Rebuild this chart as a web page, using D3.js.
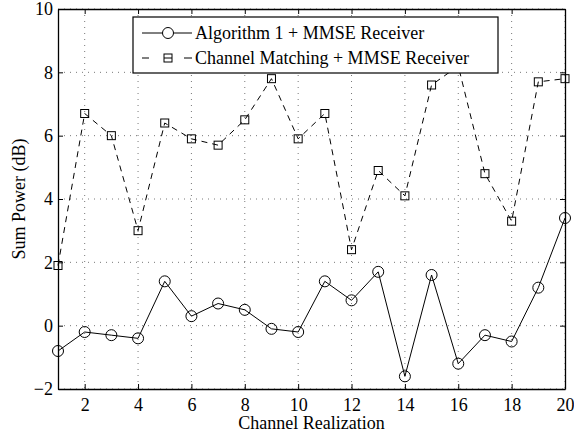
<!DOCTYPE html>
<html>
<head>
<meta charset="utf-8">
<script src="https://cdn.jsdelivr.net/npm/d3@7"></script>
<style>
body{margin:0;background:#fff;}
svg{display:block;}
</style>
</head>
<body>
<svg id="chart" width="574" height="436"></svg>
<script>
const realizations = d3.range(1, 21);
const algorithm1 = [-0.8, -0.2, -0.3, -0.4, 1.4, 0.3, 0.7, 0.5, -0.1, -0.2, 1.4, 0.8, 1.7, -1.6, 1.6, -1.2, -0.3, -0.5, 1.2, 3.4];
const channelMatching = [1.9, 6.7, 6.0, 3.0, 6.4, 5.9, 5.7, 6.5, 7.8, 5.9, 6.7, 2.4, 4.9, 4.1, 7.6, 8.2, 4.8, 3.3, 7.7, 7.8];
const xTicks = [2, 4, 6, 8, 10, 12, 14, 16, 18, 20];
const yTicks = [-2, 0, 2, 4, 6, 8, 10];
const seriesNames = ["Algorithm 1 + MMSE Receiver", "Channel Matching + MMSE Receiver"];
const xLabel = "Channel Realization";
const yLabel = "Sum Power (dB)";

const FONT = "'Liberation Serif'";
const svg = d3.select("#chart");
const L = 58, R = 565, T = 9, B = 389;
const x = d3.scaleLinear().domain([1, 20]).range([L, R]);
const y = d3.scaleLinear().domain([-2, 10]).range([B, T]);
const fmt = d => d < 0 ? "\u2212" + Math.abs(d) : String(d);

// grid
const grid = svg.append("g");
grid.selectAll("line.gx").data(xTicks).join("line")
  .attr("x1", d => x(d)).attr("x2", d => x(d)).attr("y1", T).attr("y2", B)
  .attr("stroke", "#555").attr("stroke-width", 0.8).attr("stroke-dasharray", "1,5");
grid.selectAll("line.gy").data(yTicks).join("line")
  .attr("y1", d => y(d)).attr("y2", d => y(d)).attr("x1", L).attr("x2", R)
  .attr("stroke", "#555").attr("stroke-width", 0.8).attr("stroke-dasharray", "1,5");

// axes
const tickLen = 5;
const xb = svg.append("g").attr("transform", `translate(0,${B})`)
  .call(d3.axisBottom(x).tickValues(xTicks).tickFormat(fmt).tickSizeInner(-tickLen).tickSizeOuter(0).tickPadding(9));
const xt = svg.append("g").attr("transform", `translate(0,${T})`)
  .call(d3.axisTop(x).tickValues(xTicks).tickFormat("").tickSizeInner(-tickLen).tickSizeOuter(0));
const yl = svg.append("g").attr("transform", `translate(${L},0)`)
  .call(d3.axisLeft(y).tickValues(yTicks).tickFormat(fmt).tickSizeInner(-tickLen).tickSizeOuter(0).tickPadding(5));
const yr = svg.append("g").attr("transform", `translate(${R},0)`)
  .call(d3.axisRight(y).tickValues(yTicks).tickFormat("").tickSizeInner(-tickLen).tickSizeOuter(0));
[xb, xt, yl, yr].forEach(g => {
  g.selectAll("path").attr("stroke", "#000").attr("stroke-width", 1.3);
  g.selectAll("line").attr("stroke", "#000").attr("stroke-width", 1);
  g.selectAll("text").style("font-family", FONT).style("font-size", "18px").attr("fill", "#000");
});
xb.selectAll("text").attr("dy", "0.71em");

// lines
const line = d3.line().x((d, i) => x(realizations[i])).y(d => y(d));
svg.append("path").datum(channelMatching).attr("d", line)
  .attr("fill", "none").attr("stroke", "#000").attr("stroke-width", 1).attr("stroke-dasharray", "6,5");
svg.append("g").selectAll("rect").data(channelMatching).join("rect")
  .attr("x", (d, i) => x(realizations[i]) - 4).attr("y", d => y(d) - 4)
  .attr("width", 8).attr("height", 8).attr("fill", "none").attr("stroke", "#000").attr("stroke-width", 1);

svg.append("path").datum(algorithm1).attr("d", line)
  .attr("fill", "none").attr("stroke", "#000").attr("stroke-width", 1);
svg.append("g").selectAll("circle").data(algorithm1).join("circle")
  .attr("cx", (d, i) => x(realizations[i])).attr("cy", d => y(d)).attr("r", 5.5)
  .attr("fill", "none").attr("stroke", "#000").attr("stroke-width", 1);

// legend
const lg = svg.append("g");
lg.append("rect").attr("x", 133).attr("y", 17).attr("width", 365).attr("height", 56)
  .attr("fill", "#fff").attr("stroke", "#000").attr("stroke-width", 1.2);
lg.append("line").attr("x1", 142).attr("x2", 192).attr("y1", 33).attr("y2", 33).attr("stroke", "#000");
lg.append("circle").attr("cx", 168).attr("cy", 33).attr("r", 5.5).attr("fill", "#fff").attr("stroke", "#000");
lg.append("text").attr("x", 195).attr("y", 39).style("font-family", FONT).style("font-size", "18px").text(seriesNames[0]);
lg.append("line").attr("x1", 142).attr("x2", 149).attr("y1", 58).attr("y2", 58).attr("stroke", "#000");
lg.append("line").attr("x1", 184).attr("x2", 192).attr("y1", 58).attr("y2", 58).attr("stroke", "#000");
lg.append("rect").attr("x", 164).attr("y", 54).attr("width", 8).attr("height", 8).attr("fill", "#fff").attr("stroke", "#000");
lg.append("line").attr("x1", 164).attr("x2", 172).attr("y1", 58).attr("y2", 58).attr("stroke", "#000");
lg.append("text").attr("x", 195).attr("y", 64).style("font-family", FONT).style("font-size", "18px").text(seriesNames[1]);

// labels
svg.append("text").attr("x", (L + R) / 2).attr("y", 429).attr("text-anchor", "middle")
  .style("font-family", FONT).style("font-size", "18px").text(xLabel);
svg.append("text").attr("transform", `translate(25,${(T + B) / 2}) rotate(-90)`).attr("text-anchor", "middle")
  .style("font-family", FONT).style("font-size", "18px").text(yLabel);
</script>
</body>
</html>
